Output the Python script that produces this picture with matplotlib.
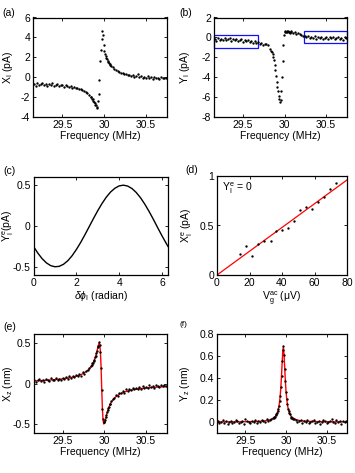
import matplotlib
matplotlib.use("Agg")
import matplotlib.pyplot as plt

plt.rcParams['font.family'] = ['Liberation Sans', 'DejaVu Sans']
plt.rcParams['mathtext.fontset'] = 'custom'
plt.rcParams['mathtext.rm'] = 'Liberation Sans'
plt.rcParams['mathtext.it'] = 'Liberation Sans:italic'
plt.rcParams['axes.unicode_minus'] = False

# frequency sweep (MHz), finer near the resonance
freq = [29.16, 29.18, 29.20, 29.22, 29.24, 29.26, 29.28, 29.30, 29.32, 29.34,
        29.36, 29.38, 29.40, 29.42, 29.44, 29.46, 29.48, 29.50, 29.52, 29.54,
        29.56, 29.58, 29.60, 29.62, 29.64, 29.66, 29.68, 29.70, 29.72, 29.74,
        29.76, 29.78, 29.80, 29.82, 29.84,
        29.848, 29.856, 29.864, 29.872, 29.880, 29.888, 29.896, 29.904, 29.912, 29.920,
        29.928, 29.936, 29.944, 29.952, 29.960, 29.968, 29.976, 29.984, 29.992, 30.000,
        30.008, 30.016, 30.024, 30.032, 30.040, 30.048, 30.056, 30.064, 30.072, 30.080,
        30.10, 30.12, 30.14, 30.16, 30.18, 30.20, 30.22, 30.24, 30.26, 30.28,
        30.30, 30.32, 30.34, 30.36, 30.38, 30.40, 30.42, 30.44, 30.46, 30.48,
        30.50, 30.52, 30.54, 30.56, 30.58, 30.60, 30.62, 30.64, 30.66, 30.68,
        30.70, 30.72, 30.74]

# (a) X_I (pA)
xI = [-0.7, -0.9, -0.6, -0.8, -0.7, -0.55, -0.8, -0.65, -0.9, -0.7,
      -0.8, -0.6, -0.85, -0.75, -0.7, -0.9, -0.8, -0.75, -0.95, -0.8,
      -0.9, -1.0, -0.9, -1.05, -1.0, -1.1, -1.05, -1.2, -1.15, -1.3,
      -1.4, -1.5, -1.6, -1.8, -1.95,
      -2.0, -2.15, -2.2, -2.4, -2.5, -2.6, -2.75, -2.8, -3.0, -3.1,
      -2.4, -1.7, -0.3, 1.6, 2.7, 3.8, 4.6, 4.2, 3.2, 2.6,
      2.3, 2.1, 1.95, 1.8, 1.6, 1.5, 1.4, 1.3, 1.25, 1.15,
      1.0, 0.85, 0.7, 0.65, 0.5, 0.45, 0.4, 0.3, 0.35, 0.2,
      0.25, 0.1, 0.2, 0.05, 0.15, 0.3, 0.0, 0.1, -0.1, 0.05,
      -0.05, 0.1, -0.1, 0.0, -0.15, 0.05, -0.1, -0.05, -0.15, 0.0,
      -0.1, -0.05, -0.1]

# (b) Y_I (pA)
yI = [-0.2, -0.35, -0.1, -0.3, -0.15, -0.25, -0.05, -0.3, -0.2, -0.1,
      -0.35, -0.2, -0.25, -0.15, -0.4, -0.3, -0.2, -0.45, -0.3, -0.4,
      -0.25, -0.5, -0.4, -0.55, -0.35, -0.6, -0.5, -0.7, -0.6, -0.75,
      -0.65, -0.7, -0.8, -1.2, -1.35,
      -1.5, -1.7, -2.0, -2.3, -2.75, -3.3, -3.9, -4.5, -5.0, -5.4,
      -5.9, -6.2, -6.5, -6.3, -5.4, -4.0, -2.4, -0.8, 0.2, 0.55,
      0.6, 0.5, 0.65, 0.55, 0.6, 0.5, 0.55, 0.45, 0.6, 0.5,
      0.45, 0.5, 0.35, 0.4, 0.3, 0.25, 0.1, 0.15, 0.0, 0.1,
      -0.1, 0.05, -0.05, 0.1, -0.15, 0.0, -0.1, 0.05, -0.2, -0.05,
      0.05, -0.15, 0.0, -0.1, 0.05, -0.2, -0.05, 0.0, -0.15, -0.05,
      -0.25, 0.0, -0.1]

# blue boxes in (b): (f_left, f_right, y_bottom, y_top)
box_left = (29.15, 29.674, -1.05, 0.2)
box_right = (30.234, 30.745, -0.55, 0.64)

# (c) Y_I^e vs phase
phase = [0, 0.2, 0.4, 0.6, 0.8, 1.0, 1.2, 1.4, 1.6, 1.8, 2.0, 2.2, 2.4, 2.6, 2.8,
         3.0, 3.2, 3.4, 3.6, 3.8, 4.0, 4.2, 4.4, 4.6, 4.8, 5.0, 5.2, 5.4, 5.6, 5.8,
         6.0, 6.2, 6.283]
yIe = [-0.25, -0.331, -0.399, -0.451, -0.485, -0.499, -0.494, -0.469, -0.426, -0.365,
       -0.289, -0.203, -0.108, -0.009, 0.091, 0.187, 0.275, 0.353, 0.416, 0.462,
       0.491, 0.5, 0.489, 0.459, 0.41, 0.346, 0.267, 0.178, 0.081, -0.02,
       -0.119, -0.213, -0.25]

# (d) X_I^e vs gate drive
vg = [14.4, 17.6, 21.7, 25.2, 28.9, 33.0, 36.1, 40.0, 43.7, 47.2,
      50.9, 55.0, 58.7, 62.2, 65.6, 69.3, 73.2]
xIe = [0.216, 0.29, 0.196, 0.314, 0.348, 0.348, 0.449, 0.459, 0.47, 0.544,
       0.659, 0.682, 0.662, 0.733, 0.79, 0.865, 0.932]
vg_fit = [0, 80]
xIe_fit = [0, 0.96]

# (e) X_z (nm)
xz = [0.05, 0.02, 0.04, 0.06, 0.03, 0.05, 0.02, 0.06, 0.04, 0.03,
      0.07, 0.05, 0.04, 0.07, 0.05, 0.06, 0.04, 0.07, 0.06, 0.08,
      0.06, 0.09, 0.07, 0.1, 0.08, 0.11, 0.09, 0.12, 0.1, 0.14,
      0.12, 0.16, 0.17, 0.2, 0.22,
      0.23, 0.25, 0.25, 0.28, 0.29, 0.33, 0.34, 0.38, 0.40, 0.45,
      0.47, 0.52, 0.48, 0.39, 0.2, -0.08, -0.31, -0.44, -0.48, -0.47,
      -0.45, -0.41, -0.39, -0.35, -0.33, -0.30, -0.29, -0.25, -0.25, -0.22,
      -0.19, -0.18, -0.14, -0.15, -0.11, -0.12, -0.09, -0.11, -0.07, -0.09,
      -0.06, -0.08, -0.05, -0.07, -0.05, -0.06, -0.04, -0.06, -0.03, -0.05,
      -0.04, -0.05, -0.02, -0.04, -0.03, -0.05, -0.02, -0.03, -0.04, -0.01,
      -0.03, -0.02, -0.03]

# (f) Y_z (nm)
yz = [0.01, -0.01, 0.0, 0.02, -0.01, 0.01, -0.02, 0.0, 0.01, -0.01,
      0.0, 0.02, 0.01, -0.01, 0.0, 0.01, -0.02, 0.03, 0.01, 0.0,
      -0.01, 0.01, 0.0, 0.02, -0.01, 0.01, 0.0, 0.02, 0.01, 0.0,
      0.03, 0.01, 0.02, 0.03, 0.04,
      0.04, 0.05, 0.05, 0.06, 0.07, 0.08, 0.10, 0.12, 0.15, 0.19,
      0.24, 0.32, 0.42, 0.55, 0.65, 0.69, 0.61, 0.48, 0.37, 0.27,
      0.21, 0.16, 0.12, 0.10, 0.08, 0.07, 0.05, 0.04, 0.04, 0.03,
      0.03, 0.02, 0.0, 0.01, 0.02, -0.01, 0.01, 0.0, 0.02, -0.01,
      0.0, 0.01, 0.02, -0.01, 0.0, 0.01, -0.02, 0.0, 0.02, 0.01,
      -0.01, 0.0, 0.01, 0.03, 0.0, -0.01, 0.02, 0.0, 0.01, -0.02,
      0.01, 0.0, 0.01]

# fitted curves for (e) and (f)
freq_fit = [29.15, 29.25, 29.35, 29.45, 29.55, 29.65, 29.72, 29.78, 29.82,
            29.848, 29.856, 29.864, 29.872, 29.880, 29.888, 29.896, 29.904, 29.912, 29.920,
            29.928, 29.936, 29.944, 29.952, 29.960, 29.968, 29.976, 29.984, 29.992, 30.000,
            30.008, 30.016, 30.024, 30.032, 30.040, 30.048, 30.056, 30.064, 30.072, 30.080,
            30.12, 30.18, 30.25, 30.35, 30.45, 30.55, 30.65, 30.75]
xz_fit = [0.034, 0.039, 0.045, 0.054, 0.067, 0.088, 0.112, 0.147, 0.185,
          0.225, 0.239, 0.255, 0.274, 0.294, 0.318, 0.345, 0.375, 0.409, 0.444,
          0.478, 0.499, 0.486, 0.4, 0.205, -0.071, -0.317, -0.455, -0.499, -0.491,
          -0.462, -0.426, -0.392, -0.36, -0.331, -0.306, -0.284, -0.264, -0.247, -0.232,
          -0.176, -0.129, -0.098, -0.073, -0.058, -0.048, -0.041, -0.036]
yz_fit = [0.001, 0.001, 0.001, 0.002, 0.003, 0.005, 0.009, 0.015, 0.024,
          0.036, 0.041, 0.048, 0.055, 0.065, 0.078, 0.094, 0.115, 0.144, 0.184,
          0.239, 0.317, 0.42, 0.544, 0.65, 0.677, 0.603, 0.481, 0.365, 0.275,
          0.209, 0.162, 0.129, 0.104, 0.085, 0.071, 0.06, 0.051, 0.044, 0.039,
          0.022, 0.011, 0.007, 0.004, 0.002, 0.002, 0.001, 0.001]

fs = 7.5
W, H = 355, 473
fig = plt.figure(figsize=(W / 100, H / 100), dpi=100)


def make_ax(x0, x1, y0, y1):
    # pixel box -> figure fraction
    ax = fig.add_axes([x0 / W, 1 - y1 / H, (x1 - x0) / W, (y1 - y0) / H])
    ax.tick_params(direction='in', length=2.5, width=0.6, labelsize=fs,
                   top=True, right=True, pad=2)
    for s in ax.spines.values():
        s.set_linewidth(0.9)
    return ax


def put_ylabel(ax, text, xpos):
    ax.set_ylabel(text, fontsize=fs, va='center')
    ax.yaxis.set_label_coords(xpos, 0.5)


def freq_axis(ax):
    ax.set_xlim(29.15, 30.75)
    ax.set_xticks([29.5, 30, 30.5])
    ax.set_xticklabels(['29.5', '30', '30.5'])
    ax.set_xlabel('Frequency (MHz)', fontsize=fs, labelpad=1)


dot = dict(ls='none', marker='o', ms=1.7, mec='none', mfc='black')

# (a)
ax = make_ax(33, 167, 17.5, 117)
ax.plot(freq, xI, **dot)
freq_axis(ax)
ax.set_ylim(-4, 6)
ax.set_yticks([-4, -2, 0, 2, 4, 6])
put_ylabel(ax, r'X$_\mathrm{I}$ (pA)', -0.185)

# (b)
ax = make_ax(214, 347, 17.5, 117)
ax.plot(freq, yI, **dot)
for b in (box_left, box_right):
    ax.add_patch(plt.Rectangle((b[0], b[2]), b[1] - b[0], b[3] - b[2],
                               fill=False, ec='#1010ff', lw=0.9, clip_on=False))
freq_axis(ax)
ax.set_ylim(-8, 2)
ax.set_yticks([-8, -6, -4, -2, 0, 2])
put_ylabel(ax, r'Y$_\mathrm{I}$ (pA)', -0.215)

# (c)
ax = make_ax(33.5, 168, 177, 275)
ax.plot(phase, yIe, color='black', lw=1.0)
ax.set_xlim(0, 6.283)
ax.set_ylim(-0.6, 0.6)
ax.set_xticks([0, 2, 4, 6])
ax.set_yticks([-0.5, 0, 0.5])
ax.set_yticklabels(['-0.5', '0', '0.5'])
ax.set_xlabel(r'$\delta\phi_\mathrm{I}$ (radian)', fontsize=fs, labelpad=1)
put_ylabel(ax, r'Y$_\mathrm{I}^\mathrm{e}$(pA)', -0.19)

# (d)
ax = make_ax(217, 347, 176, 275)
ax.plot(vg_fit, xIe_fit, color='red', lw=0.9)
ax.plot(vg, xIe, **dot)
ax.set_xlim(0, 80)
ax.set_ylim(0, 1)
ax.set_xticks([0, 20, 40, 60, 80])
ax.set_yticks([0, 0.5, 1])
ax.set_yticklabels(['0', '0.5', '1'])
ax.text(3, 0.85, r'Y$_\mathrm{I}^\mathrm{e}$ = 0', fontsize=fs)
ax.set_xlabel(r'V$_\mathrm{g}^\mathrm{ac}$ ($\mathrm{\mu}$V)', fontsize=fs, labelpad=1)
put_ylabel(ax, r'X$_\mathrm{I}^\mathrm{e}$ (pA)', -0.225)

# (e)
ax = make_ax(33.5, 167, 334, 433)
ax.plot(freq_fit, xz_fit, color='red', lw=1.0)
ax.plot(freq, xz, **dot)
freq_axis(ax)
ax.set_ylim(-0.61, 0.615)
ax.set_yticks([-0.5, 0, 0.5])
ax.set_yticklabels(['-0.5', '0', '0.5'])
put_ylabel(ax, r'X$_\mathrm{z}$ (nm)', -0.19)

# (f)
ax = make_ax(217, 347, 334, 433)
ax.plot(freq_fit, yz_fit, color='red', lw=1.0)
ax.plot(freq, yz, **dot)
freq_axis(ax)
ax.set_ylim(-0.1, 0.8)
ax.set_yticks([0, 0.2, 0.4, 0.6, 0.8])
ax.set_yticklabels(['0', '0.2', '0.4', '0.6', '0.8'])
put_ylabel(ax, r'Y$_\mathrm{z}$ (nm)', -0.245)

# panel letters
fig.text(0.025, 0.972, '(a)', fontsize=fs, ha='center', va='center')
fig.text(0.524, 0.972, '(b)', fontsize=fs, ha='center', va='center')
fig.text(0.028, 0.638, '(c)', fontsize=fs, ha='center', va='center')
fig.text(0.541, 0.641, '(d)', fontsize=fs, ha='center', va='center')
fig.text(0.028, 0.309, '(e)', fontsize=fs, ha='center', va='center')
fig.text(0.518, 0.313, '(f)', fontsize=6, ha='center', va='center')

fig.savefig('out.png', dpi=100)
